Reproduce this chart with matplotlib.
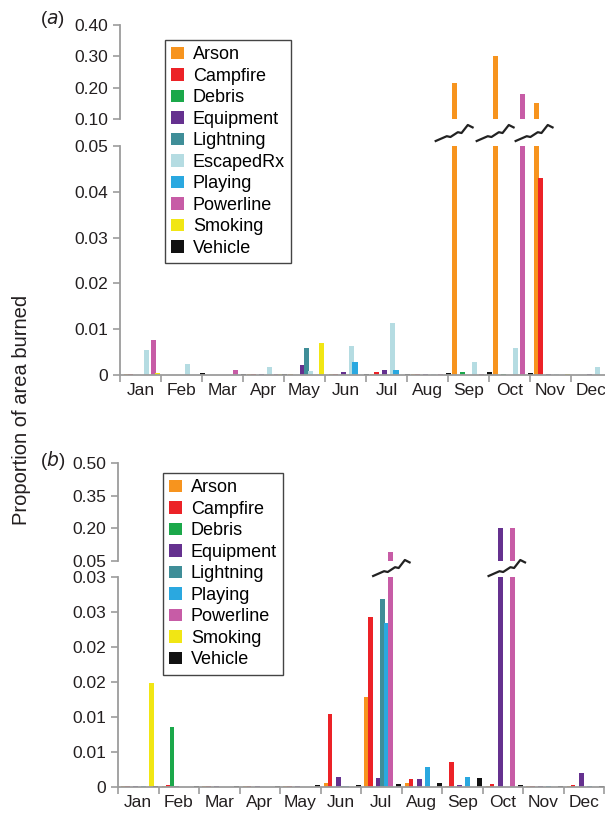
import numpy as np
import matplotlib.pyplot as plt
from matplotlib.patches import Patch
from matplotlib.lines import Line2D
from matplotlib.transforms import blended_transform_factory

plt.rcParams["font.family"] = ["Liberation Sans", "DejaVu Sans"]

months = ["Jan", "Feb", "Mar", "Apr", "May", "Jun",
          "Jul", "Aug", "Sep", "Oct", "Nov", "Dec"]

causes_a = ["Arson", "Campfire", "Debris", "Equipment", "Lightning",
            "EscapedRx", "Playing", "Powerline", "Smoking", "Vehicle"]
causes_b = ["Arson", "Campfire", "Debris", "Equipment", "Lightning",
            "Playing", "Powerline", "Smoking", "Vehicle"]

colors = {
    "Arson": "#F7941E",
    "Campfire": "#EC2227",
    "Debris": "#1BA84A",
    "Equipment": "#65318F",
    "Lightning": "#3F8E98",
    "EscapedRx": "#B5DCE2",
    "Playing": "#2AA8E0",
    "Powerline": "#C75CA6",
    "Smoking": "#F1E614",
    "Vehicle": "#111111",
}

# panel (a), Jan..Dec
arson_a = [0.0002, 0, 0, 0.0003, 0.0002, 0.0002, 0.0002, 0.0002, 0.216, 0.300, 0.150, 0]
campfire_a = [0.0002, 0, 0, 0.0003, 0, 0.0003, 0.0007, 0.0003, 0, 0, 0.043, 0]
debris_a = [0, 0, 0, 0, 0, 0, 0, 0, 0.0006, 0.0002, 0, 0]
equipment_a = [0, 0, 0, 0.0003, 0.0021, 0.0006, 0.0012, 0.0003, 0, 0, 0.0003, 0.0002]
lightning_a = [0, 0, 0, 0, 0.0058, 0, 0, 0, 0, 0, 0, 0]
escaped_a = [0.0054, 0.0024, 0, 0.0017, 0.0008, 0.0063, 0.0113, 0.0003, 0.0029, 0.0058, 0.0002, 0.0017]
playing_a = [0, 0, 0, 0, 0, 0.0028, 0.0012, 0, 0, 0, 0, 0]
powerline_a = [0.0076, 0, 0.0010, 0.0002, 0, 0, 0, 0.0002, 0.0002, 0.180, 0, 0]
smoking_a = [0.0005, 0, 0, 0.0003, 0.0070, 0, 0, 0, 0, 0, 0.0002, 0]
vehicle_a = [0, 0.0005, 0.0003, 0.0003, 0, 0.0003, 0.0003, 0.0005, 0.0006, 0.0004, 0, 0]

# panel (b), Jan..Dec
arson_b = [0.0002, 0.0002, 0.0002, 0.0002, 0.0002, 0.0006, 0.0129, 0.0006, 0.0002, 0.0002, 0.0002, 0.0002]
campfire_b = [0.0002, 0.0003, 0.0002, 0.0002, 0.0002, 0.0104, 0.0243, 0.0011, 0.0036, 0.0004, 0.0002, 0.0003]
debris_b = [0, 0.0086, 0, 0, 0, 0, 0, 0, 0, 0, 0, 0]
equipment_b = [0.0002, 0.0002, 0.0002, 0.0002, 0.0002, 0.0014, 0.0013, 0.0011, 0.0003, 0.200, 0.0002, 0.0020]
lightning_b = [0, 0, 0, 0, 0, 0.0002, 0.0269, 0, 0, 0, 0, 0]
playing_b = [0.0002, 0, 0, 0, 0, 0.0002, 0.0234, 0.0029, 0.0014, 0, 0.0002, 0.0002]
powerline_b = [0, 0, 0, 0, 0, 0, 0.090, 0, 0, 0.200, 0, 0]
smoking_b = [0.0149, 0, 0, 0, 0, 0, 0, 0, 0, 0, 0, 0]
vehicle_b = [0.0002, 0.0002, 0.0002, 0.0002, 0.0003, 0.0003, 0.0005, 0.0006, 0.0013, 0.0003, 0.0002, 0.0002]

values_a = [arson_a, campfire_a, debris_a, equipment_a, lightning_a,
            escaped_a, playing_a, powerline_a, smoking_a, vehicle_a]
values_b = [arson_b, campfire_b, debris_b, equipment_b, lightning_b,
            playing_b, powerline_b, smoking_b, vehicle_b]

hi_ticks_a = [0.10, 0.20, 0.30, 0.40]
hi_labels_a = ["0.10", "0.20", "0.30", "0.40"]
lo_ticks_a = [0, 0.01, 0.02, 0.03, 0.04, 0.05]
lo_labels_a = ["0", "0.01", "0.02", "0.03", "0.04", "0.05"]
hi_ticks_b = [0.05, 0.20, 0.35, 0.50]
hi_labels_b = ["0.05", "0.20", "0.35", "0.50"]
lo_ticks_b = [0, 0.005, 0.01, 0.015, 0.02, 0.025, 0.03]
lo_labels_b = ["0", "0.01", "0.01", "0.02", "0.02", "0.03", "0.03"]

W, H = 605, 819
fig = plt.figure(figsize=(W / 100, H / 100), dpi=100)

GRAY = "#9C9C9C"
TXT = "#231F20"


def px_axes(left, right, top, bottom):
    return fig.add_axes([left / W, 1 - bottom / H, (right - left) / W, (bottom - top) / H])


def style(ax, show_bottom):
    for s in ["top", "right"]:
        ax.spines[s].set_visible(False)
    ax.spines["left"].set_color(GRAY)
    ax.spines["left"].set_linewidth(1.3)
    ax.spines["bottom"].set_visible(show_bottom)
    ax.spines["bottom"].set_color(GRAY)
    ax.spines["bottom"].set_linewidth(1.3)
    ax.tick_params(axis="y", colors=GRAY, labelcolor=TXT, length=5, width=1.2, labelsize=12.5)
    ax.patch.set_alpha(0)


def draw_panel(ax_hi, ax_lo, causes, values, start, step, width,
               hi_lim, hi_ticks, hi_labels, lo_lim, lo_ticks, lo_labels):
    x = np.arange(12)
    for k, (c, v) in enumerate(zip(causes, values)):
        for ax in (ax_hi, ax_lo):
            ax.bar(x + start + k * step, v, width=width, align="edge",
                   color=colors[c], linewidth=0)
    ax_hi.set_ylim(*hi_lim)
    ax_lo.set_ylim(*lo_lim)
    for ax in (ax_hi, ax_lo):
        ax.set_xlim(0, 12)
    ax_hi.set_yticks(hi_ticks, hi_labels)
    ax_lo.set_yticks(lo_ticks, lo_labels)
    style(ax_hi, False)
    style(ax_lo, True)
    ax_hi.set_xticks([])
    ax_lo.set_xticks(np.arange(13))
    ax_lo.set_xticklabels([])
    ax_lo.set_xticks(x + 0.5, minor=True)
    ax_lo.set_xticklabels(months, minor=True)
    ax_lo.tick_params(axis="x", which="major", colors=GRAY, length=5, width=1.2)
    ax_lo.tick_params(axis="x", which="minor", length=0, pad=6, labelsize=12.5, labelcolor=TXT)


def zigzag(ax, xc, yc):
    tr = blended_transform_factory(ax.transData, fig.transFigure)
    sx = np.array([0, 0.3, 0.4, 0.6, 0.7, 0.87, 1.0]) - 0.5
    sy = np.array([0, 0.3, 0.25, 0.55, 0.5, 1.0, 0.85]) - 0.5
    fig.add_artist(Line2D(xc + sx * 0.9, yc + sy * 16 / H, transform=tr,
                          color="#222222", lw=1.6, solid_joinstyle="round"))


# panel (a)
a_hi = px_axes(120, 612, 25, 119)
a_lo = px_axes(120, 612, 146, 375)
draw_panel(a_hi, a_lo, causes_a, values_a, 0.10, 0.095, 0.125,
           (0.10, 0.40), hi_ticks_a, hi_labels_a,
           (0, 0.05), lo_ticks_a, lo_labels_a)
for xc in [8.15, 9.15, 10.1]:
    zigzag(a_lo, xc, 1 - 133 / H)

# panel (b)
b_hi = px_axes(118, 604, 463, 561)
b_lo = px_axes(118, 604, 577, 787)
draw_panel(b_hi, b_lo, causes_b, values_b, 0.075, 0.10, 0.12,
           (0.05, 0.50), hi_ticks_b, hi_labels_b,
           (0, 0.03), lo_ticks_b, lo_labels_b)
for xc in [6.75, 9.6]:
    zigzag(b_lo, xc, 1 - 568 / H)

leg_kw = dict(loc="upper left", bbox_transform=fig.transFigure, frameon=True,
              fancybox=False, edgecolor="#444444", framealpha=1, fontsize=13,
              handlelength=0.7, handleheight=0.7, handletextpad=0.5,
              labelspacing=0.25, borderpad=0.35, borderaxespad=0)
la = fig.legend([Patch(facecolor=colors[c], edgecolor="none") for c in causes_a], causes_a,
                bbox_to_anchor=(165 / W, 1 - 40 / H), **leg_kw)
la.get_frame().set_linewidth(1.0)
lb = fig.legend([Patch(facecolor=colors[c], edgecolor="none") for c in causes_b], causes_b,
                bbox_to_anchor=(163 / W, 1 - 473 / H), **leg_kw)
lb.get_frame().set_linewidth(1.0)

fig.text(40 / W, 1 - 20 / H, r"($\mathit{a}$)", fontsize=13.5, color=TXT, va="center")
fig.text(40 / W, 1 - 461 / H, r"($\mathit{b}$)", fontsize=13.5, color=TXT, va="center")
fig.text(22 / W, 1 - 410 / H, "Proportion of area burned", rotation=90,
         fontsize=14.5, color=TXT, ha="center", va="center")

fig.savefig("out.png", dpi=100)
